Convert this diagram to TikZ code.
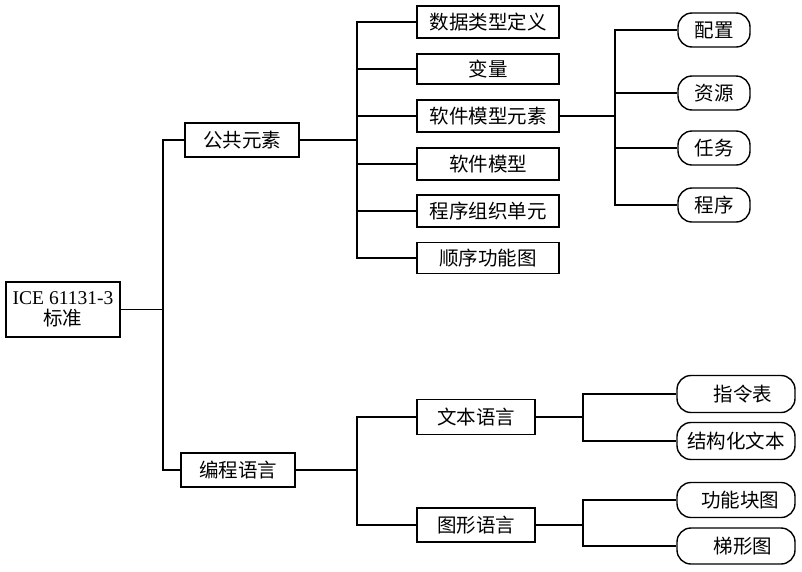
\documentclass[tikz,border=0pt]{standalone}
\usepackage{fontspec}
\setmainfont{Liberation Serif}
\newfontfamily\cjk{Noto Sans CJK SC}
\usepackage{tikz}
\tikzset{
	linie/.style={black, line width=1.4pt},
	kasten/.style={draw, line width=1.4pt, rectangle, align=center, inner sep=0pt, font=\fontsize{19.5}{22}\selectfont\cjk},
	rundkasten/.style={kasten, rounded corners=14pt}
}

\begin{document}
\begin{tikzpicture}[x=1pt,y=-1pt]
			\useasboundingbox (0,0) rectangle (802,571);
			
			% Wurzel
			\node[kasten, minimum width=114pt, minimum height=55pt] (norm) at (63,309.5) {{\rmfamily\fontsize{19.5}{22}\selectfont ICE 61131-3}\\[-1pt]标准};
			\node[kasten, minimum width=114pt, minimum height=34pt] (gemein) at (242,140) {公共元素};
			\node[kasten, minimum width=114pt, minimum height=34pt] (sprache) at (238,470) {编程语言};
			
			% gemeinsame Elemente
			\node[kasten, minimum width=142pt, minimum height=32pt] (daten) at (488,22) {数据类型定义};
			\node[kasten, minimum width=142pt, minimum height=30pt] (variable) at (488,69) {变量};
			\node[kasten, minimum width=142pt, minimum height=32pt] (swelem) at (488,116) {软件模型元素};
			\node[kasten, minimum width=142pt, minimum height=32pt] (swmodell) at (488,164) {软件模型};
			\node[kasten, minimum width=142pt, minimum height=32pt] (pou) at (488,211) {程序组织单元};
			\node[kasten, minimum width=142pt, minimum height=31pt] (sfc) at (488,258) {顺序功能图};
			
			\node[rundkasten, minimum width=72pt, minimum height=34pt] (konfig) at (714,30) {配置};
			\node[rundkasten, minimum width=72pt, minimum height=34pt] (ressource) at (714,93) {资源};
			\node[rundkasten, minimum width=72pt, minimum height=34pt] (task) at (714,148) {任务};
			\node[rundkasten, minimum width=72pt, minimum height=34pt] (programm) at (714,205) {程序};
			
			% Programmiersprachen
			\node[kasten, minimum width=118pt, minimum height=35pt] (text) at (476,417) {文本语言};
			\node[kasten, minimum width=118pt, minimum height=34pt] (grafik) at (476,525) {图形语言};
			
			\node[rundkasten, minimum width=118pt, minimum height=37pt] (il) at (736,394) {\hspace*{14pt}指令表};
			\node[rundkasten, minimum width=118pt, minimum height=37pt] (st) at (736,441) {结构化文本};
			\node[rundkasten, minimum width=118pt, minimum height=35pt] (fbd) at (736,500) {\hspace*{8pt}功能块图};
			\node[rundkasten, minimum width=118pt, minimum height=36pt] (ld) at (736,546) {\hspace*{14pt}梯形图};
			
			% Verbindungen
			\coordinate (j0) at (163,309.5);
			\coordinate (j1) at (357,140);
			\coordinate (j2) at (615,116);
			\coordinate (j3) at (357,470);
			\coordinate (j4) at (583,417);
			\coordinate (j5) at (583,525);
			
			\draw[linie] (norm.east) -- (j0);
			\draw[linie] (gemein.west) -| (j0) |- (sprache.west);
			
			\draw[linie] (gemein.east) -- (j1);
			\draw[linie] (j1) |- (daten.west);
			\draw[linie] (j1) |- (variable.west);
			\draw[linie] (j1) -- (swelem.west -| j1) -- (swelem.west);
			\draw[linie] (j1) |- (swmodell.west);
			\draw[linie] (j1) |- (pou.west);
			\draw[linie] (j1) |- (sfc.west);
			
			\draw[linie] (swelem.east) -- (j2);
			\draw[linie] (j2) |- (konfig.west);
			\draw[linie] (j2) |- (ressource.west);
			\draw[linie] (j2) |- (task.west);
			\draw[linie] (j2) |- (programm.west);
			
			\draw[linie] (sprache.east) -- (j3);
			\draw[linie] (j3) |- (text.west);
			\draw[linie] (j3) |- (grafik.west);
			
			\draw[linie] (text.east) -- (j4);
			\draw[linie] (j4) |- (il.west);
			\draw[linie] (j4) |- (st.west);
			\draw[linie] (grafik.east) -- (j5);
			\draw[linie] (j5) |- (fbd.west);
			\draw[linie] (j5) |- (ld.west);
		\end{tikzpicture}
\end{document}
